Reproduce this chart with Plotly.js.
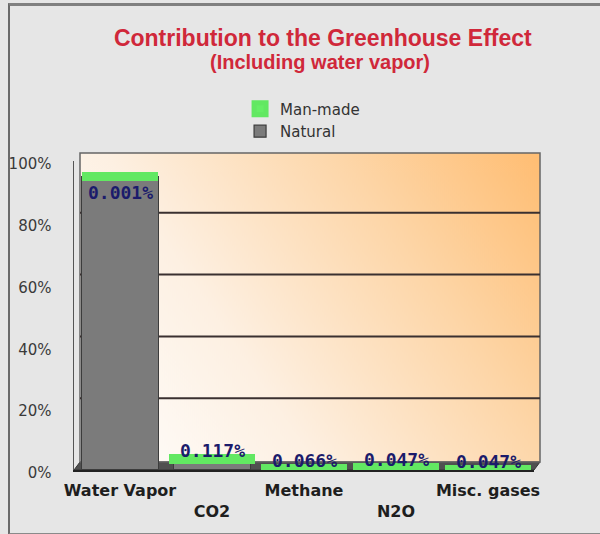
<!DOCTYPE html>
<html>
<head>
<meta charset="utf-8">
<script src="https://cdn.plot.ly/plotly-3.0.1.min.js"></script>
<style>
  html, body { margin: 0; padding: 0; background: #e6e6e6; }
  #wrap { position: relative; width: 600px; height: 534px; overflow: hidden; }
  #chart { position: absolute; left: 0; top: 0; width: 600px; height: 534px; }
  #frame { position: absolute; left: 8px; top: 3px; width: 600px; height: 527px;
           border-top: 3px solid #808080; border-left: 2px solid #6a6a6a; border-bottom: 2px solid #8a8a8a;
           pointer-events: none; }
</style>
</head>
<body>
<div id="wrap">
  <div id="chart"></div>
  <div id="frame"></div>
</div>
<script>
// ---- data ----
const categories = ['Water Vapor', 'CO2', 'Methane', 'N2O', 'Misc. gases'];
const tickLabels = ['Water Vapor', '<br>CO2', 'Methane', '<br>N2O', 'Misc. gases'];
const natural = [94.999, 3.502, 0.294, 0.903, 0.025];
const manMade = [0.001, 0.117, 0.066, 0.047, 0.047];
const yTicks = [0, 20, 40, 60, 80, 100];
const gridValues = [20, 40, 60, 80];

// ---- back wall gradient image ----
function wallImage() {
  const c = document.createElement('canvas');
  c.width = 460; c.height = 310;
  const g = c.getContext('2d');
  const grd = g.createLinearGradient(0, c.height, c.width, 0);
  grd.addColorStop(0, '#ffffff');
  grd.addColorStop(0.35, '#fdf0e2');
  grd.addColorStop(0.7, '#fdd6a8');
  grd.addColorStop(1, '#ffbd72');
  g.fillStyle = grd;
  g.fillRect(0, 0, c.width, c.height);
  return c.toDataURL('image/png');
}

// depth offsets of the back wall relative to the front frame (paper units)
const dx = 6 / 460, dy = 8 / 309;

const traces = [
  {
    type: 'bar', name: 'Natural', x: categories, y: natural,
    marker: { color: '#7b7b7b', line: { color: '#3c3c3c', width: 1.2 } },
    hoverinfo: 'skip'
  },
  {
    type: 'bar', name: 'Man-made', x: categories, y: manMade,
    marker: { color: '#66ee66', line: { color: '#62e862', width: 9 } },
    hoverinfo: 'skip'
  }
];

const annotations = categories.map((c, i) => {
  const total = natural[i] + manMade[i];
  return {
    x: c, y: total, xref: 'x', yref: 'y',
    text: manMade[i].toFixed(3) + '%',
    showarrow: false, yanchor: 'middle',
    yshift: total > 50 ? -16 : 8,
    font: { family: 'DejaVu Sans Mono', size: 18, color: '#1b1b6b', weight: 'bold' }
  };
});
annotations.push({
  xref: 'paper', yref: 'paper', x: 0.535, y: 1.32,
  xanchor: 'center', yanchor: 'middle', showarrow: false,
  text: '(Including water vapor)',
  font: { family: 'Liberation Sans', size: 20, color: '#d0283a', weight: 'bold' }
});

const shapes = [
  // floor
  { type: 'path', xref: 'paper', yref: 'paper', layer: 'below',
    path: `M 0 0 L 1 0 L ${1 + dx} ${dy} L ${dx} ${dy} Z`,
    fillcolor: '#505050', line: { color: '#333', width: 1 } },
  // back wall border
  { type: 'rect', xref: 'paper', yref: 'paper', layer: 'below',
    x0: dx, x1: 1 + dx, y0: dy, y1: 1 + dy,
    line: { color: '#666', width: 1.5 } }
];
gridValues.forEach(v => {
  shapes.push({ type: 'line', xref: 'paper', yref: 'y', ysizemode: 'pixel', yanchor: v,
    x0: dx, x1: 1 + dx, y0: 10, y1: 10, layer: 'below',
    line: { color: '#3a3030', width: 2 } });
});

const layout = {
  width: 600, height: 534,
  margin: { l: 74, r: 66, t: 161, b: 64 },
  paper_bgcolor: 'rgba(0,0,0,0)',
  plot_bgcolor: 'rgba(0,0,0,0)',
  barmode: 'stack',
  bargap: 0.17,
  showlegend: true,
  title: {
    text: 'Contribution to the Greenhouse Effect',
    font: { family: 'Liberation Sans', size: 23, color: '#d0283a', weight: 'bold' },
    x: 0.538, xanchor: 'center', xref: 'container',
    y: 0.9445, yanchor: 'top', yref: 'container'
  },
  legend: {
    x: 0.361, xanchor: 'left', y: 1.222, yanchor: 'top',
    orientation: 'v', traceorder: 'reversed',
    bgcolor: 'rgba(0,0,0,0)',
    font: { family: 'DejaVu Sans', size: 15, color: '#333' },
    itemwidth: 30
  },
  xaxis: {
    type: 'category',
    tickmode: 'array', tickvals: categories, ticktext: tickLabels,
    showline: true, linecolor: '#222', linewidth: 2,
    showgrid: false, zeroline: false, ticks: '',
    ticklabelstandoff: 5,
    tickfont: { family: 'DejaVu Sans', size: 16, color: '#1e1e1e', weight: 'bold' },
    fixedrange: true
  },
  yaxis: {
    range: [0, 100], tickmode: 'array', tickvals: yTicks,
    ticktext: yTicks.map(v => v + '%'),
    showline: true, linecolor: '#555', linewidth: 1.5,
    showgrid: false, zeroline: false, ticks: '',
    ticklabelstandoff: 18, ticklabelshift: 3,
    tickfont: { family: 'DejaVu Sans', size: 15, color: '#3a3a3a' },
    fixedrange: true
  },
  images: [{
    source: wallImage(), xref: 'paper', yref: 'paper',
    x: dx, y: 1 + dy, sizex: 1, sizey: 1,
    xanchor: 'left', yanchor: 'top', sizing: 'stretch', layer: 'below'
  }],
  shapes: shapes,
  annotations: annotations
};

Plotly.newPlot('chart', traces, layout, { displayModeBar: false, staticPlot: true });
</script>
</body>
</html>
